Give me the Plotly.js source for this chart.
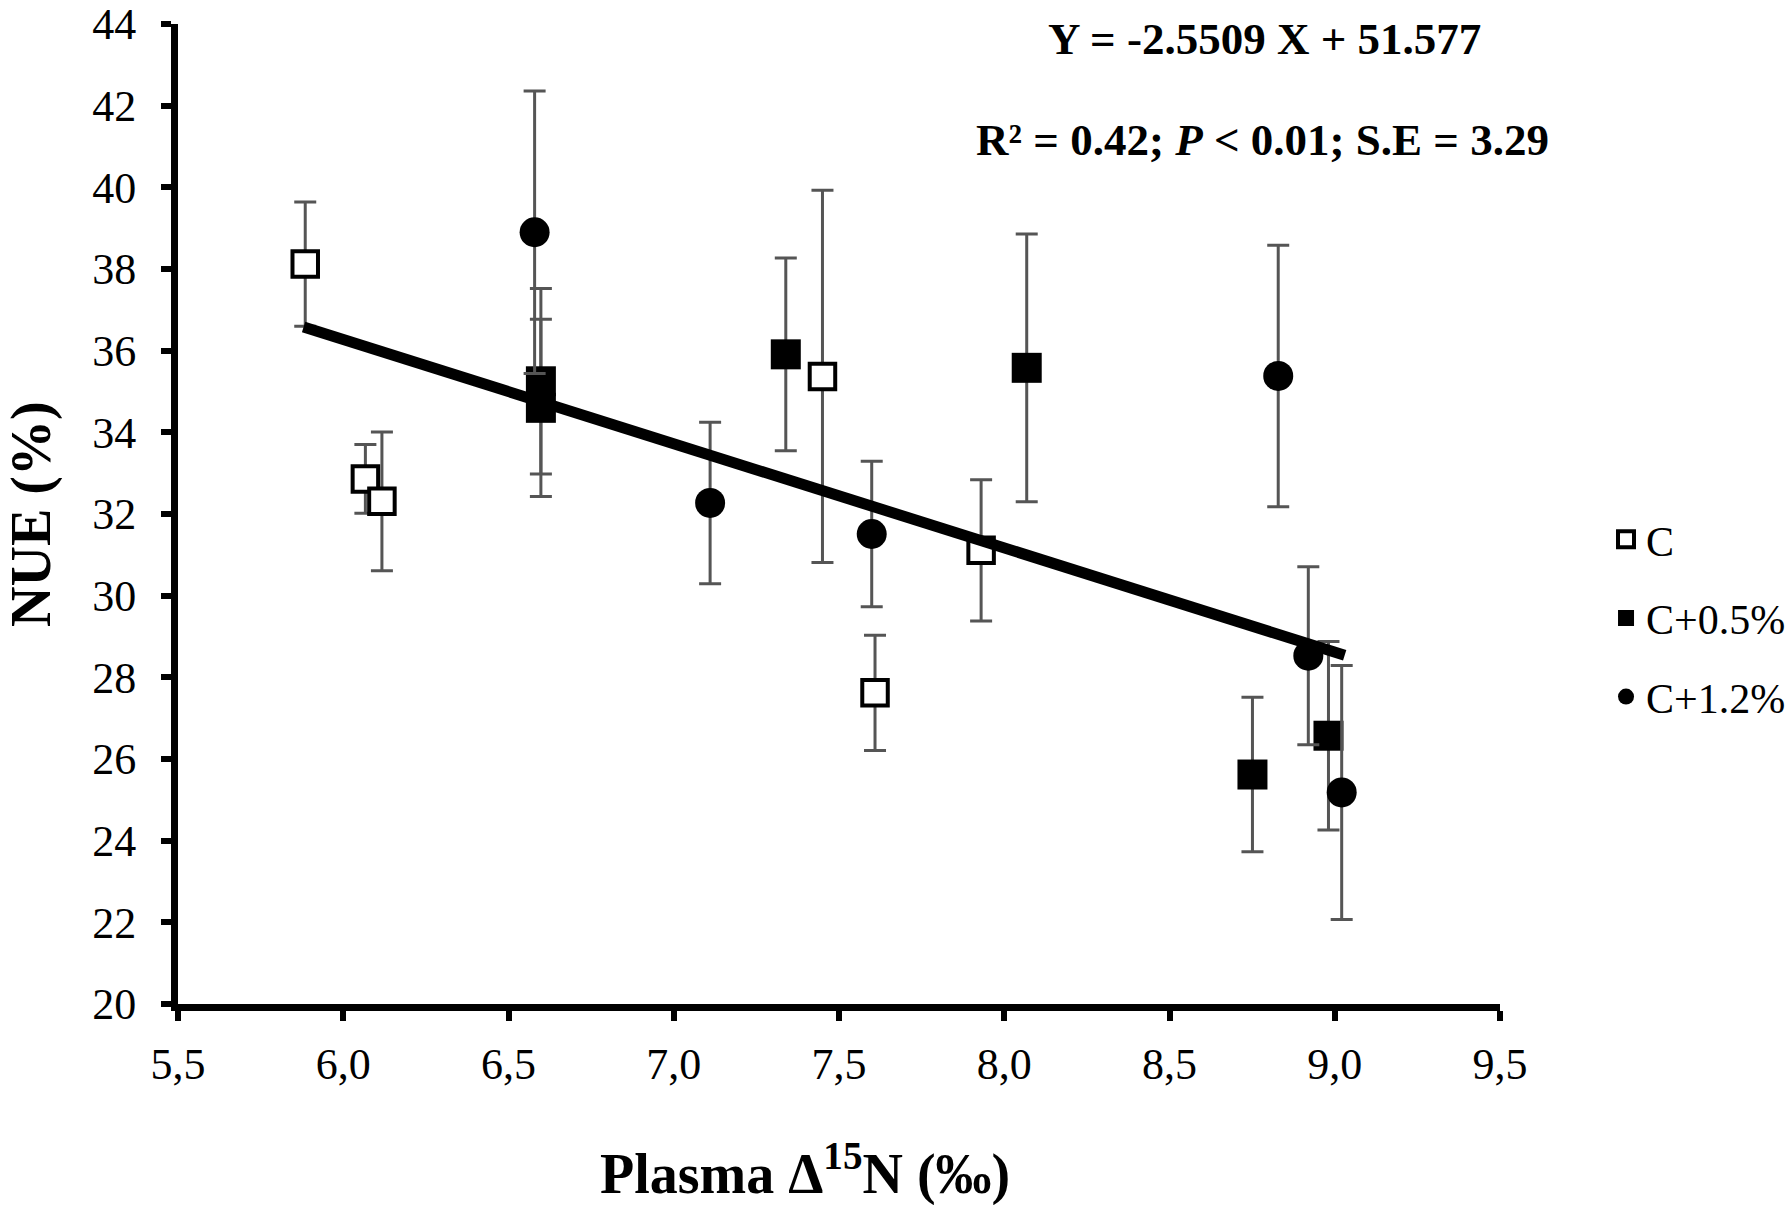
<!DOCTYPE html>
<html>
<head>
<meta charset="utf-8">
<script src="https://cdn.plot.ly/plotly-3.0.1.min.js"></script>
<style>html,body{margin:0;padding:0;background:#fff;}#chart{width:1791px;height:1205px;}</style>
</head>
<body>
<div id="chart"></div>
<script>
// Series C (open squares)
var cX = [5.885, 6.067, 6.117, 7.450, 7.609, 7.930];
var cY = [38.12, 32.86, 32.31, 35.37, 27.62, 31.11];
var cErr = [1.52, 0.84, 1.70, 4.56, 1.41, 1.73];

// Series C+0.5% (filled squares)
var c05X = [6.598, 6.598, 7.339, 8.068, 8.751, 8.981];
var c05Y = [35.25, 34.60, 35.91, 35.58, 25.62, 26.57];
var c05Err = [2.27, 2.17, 2.36, 3.28, 1.89, 2.31];

// Series C+1.2% (filled circles)
var c12X = [6.579, 7.110, 7.599, 8.829, 8.920, 9.021];
var c12Y = [38.90, 32.27, 31.51, 35.38, 28.53, 25.18];
var c12Err = [3.46, 1.98, 1.78, 3.20, 2.18, 3.11];

// Regression line endpoints (as drawn)
var fitX = [5.88, 9.03];
var fitY = [36.58, 28.54];

// Tick values and labels
var xTickVals = [5.5, 6.0, 6.5, 7.0, 7.5, 8.0, 8.5, 9.0, 9.5];
var xTickText = ['5,5', '6,0', '6,5', '7,0', '7,5', '8,0', '8,5', '9,0', '9,5'];
var yTickVals = [20, 22, 24, 26, 28, 30, 32, 34, 36, 38, 40, 42, 44];

var seriesNames = ['C', 'C+0.5%', 'C+1.2%'];
var eqText = 'Y = -2.5509 X + 51.577';
var statText = 'R\u00b2 = 0.42; <i>P</i> < 0.01; S.E = 3.29';
var xTitle = 'Plasma \u0394<sup>15</sup>N (\u2030)';
var yTitle = 'NUE (%)';

var FONT = 'Liberation Serif, Times New Roman, serif';
var errStyle = function (arr) {
  return {type: 'data', array: arr, visible: true, color: '#555555', thickness: 3, width: 11};
};

var traces = [
  {
    x: cX, y: cY, name: seriesNames[0], type: 'scatter', mode: 'markers',
    legendgroup: 'g1',
    marker: {symbol: 'square', size: 25.5, color: '#ffffff', line: {color: '#000000', width: 4}},
    error_y: errStyle(cErr)
  },
  {
    x: c05X, y: c05Y, name: seriesNames[1], type: 'scatter', mode: 'markers',
    legendgroup: 'g2',
    marker: {symbol: 'square', size: 30, color: '#000000', line: {width: 0}},
    error_y: errStyle(c05Err)
  },
  {
    x: c12X, y: c12Y, name: seriesNames[2], type: 'scatter', mode: 'markers',
    legendgroup: 'g3',
    marker: {symbol: 'circle', size: 30, color: '#000000', line: {width: 0}},
    error_y: errStyle(c12Err)
  },
  {
    x: fitX, y: fitY, type: 'scatter', mode: 'lines', showlegend: false,
    line: {color: '#000000', width: 11}, hoverinfo: 'skip'
  }
];

var layout = {
  width: 1791, height: 1205,
  paper_bgcolor: '#ffffff', plot_bgcolor: '#ffffff',
  margin: {l: 178, r: 291, t: 24, b: 201, autoexpand: false},
  font: {family: FONT, color: '#000000', size: 44},
  showlegend: true,
  legend: {
    x: 1.0802, xanchor: 'left', y: 0.5086, yanchor: 'top',
    traceorder: 'grouped', tracegroupgap: 21,
    font: {family: FONT, size: 42, color: '#000000'},
    bgcolor: 'rgba(0,0,0,0)', borderwidth: 0
  },
  xaxis: {
    range: [5.5, 9.5], tickmode: 'array', tickvals: xTickVals, ticktext: xTickText,
    showgrid: false, zeroline: false,
    showline: true, linecolor: '#000000', linewidth: 7,
    ticks: 'outside', ticklen: 10, tickwidth: 6, tickcolor: '#000000',
    ticklabelstandoff: 5, ticklabeloverflow: 'allow',
    tickfont: {family: FONT, size: 44, color: '#000000'}
  },
  yaxis: {
    range: [20, 44], tickmode: 'array', tickvals: yTickVals,
    showgrid: false, zeroline: false,
    showline: true, linecolor: '#000000', linewidth: 7,
    ticks: 'outside', ticklen: 10, tickwidth: 6, tickcolor: '#000000',
    ticklabelstandoff: 16, ticklabeloverflow: 'allow',
    tickfont: {family: FONT, size: 44, color: '#000000'}
  },
  annotations: [
    {text: eqText, xref: 'paper', yref: 'paper', x: 0.8215, y: 0.985,
     xanchor: 'center', yanchor: 'middle', showarrow: false,
     font: {family: FONT, size: 45, color: '#000000', weight: 'bold'}},
    {text: statText, xref: 'paper', yref: 'paper', x: 0.820, y: 0.8818,
     xanchor: 'center', yanchor: 'middle', showarrow: false,
     font: {family: FONT, size: 45, color: '#000000', weight: 'bold'}},
    {text: xTitle, xref: 'paper', yref: 'paper', x: 0.474, y: -0.1694,
     xanchor: 'center', yanchor: 'middle', showarrow: false,
     font: {family: FONT, size: 56, color: '#000000', weight: 'bold'}},
    {text: yTitle, xref: 'paper', yref: 'paper', x: -0.1112, y: 0.5,
     xanchor: 'center', yanchor: 'middle', showarrow: false, textangle: -90,
     font: {family: FONT, size: 56, color: '#000000', weight: 'bold'}}
  ]
};

Plotly.newPlot('chart', traces, layout, {displayModeBar: false, staticPlot: true});
</script>
</body>
</html>
